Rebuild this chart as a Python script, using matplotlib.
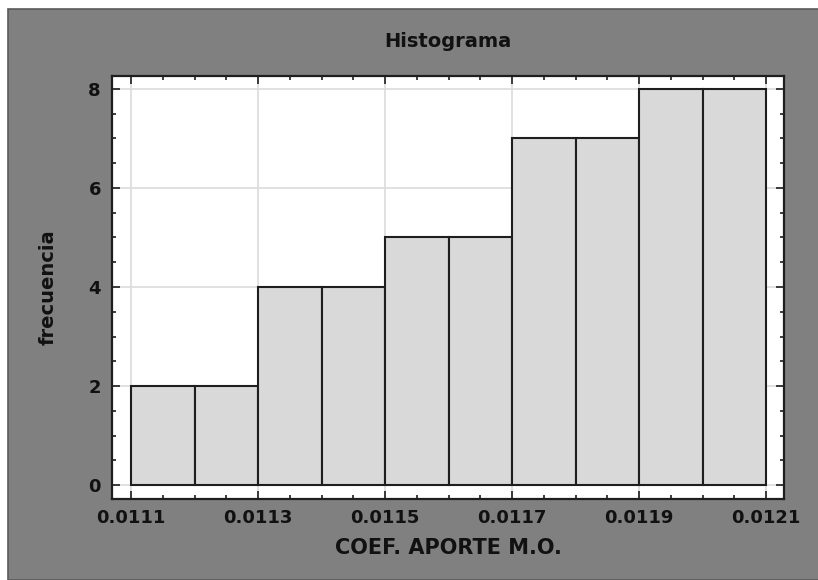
import numpy as np
import matplotlib.pyplot as plt
from matplotlib.patches import Rectangle
from matplotlib.ticker import MultipleLocator

# Histogram data
bin_edges = [0.0111, 0.0112, 0.0113, 0.0114, 0.0115, 0.0116,
             0.0117, 0.0118, 0.0119, 0.0120, 0.0121]
counts = [2, 2, 4, 4, 5, 5, 7, 7, 8, 8]
x_ticks = [0.0111, 0.0113, 0.0115, 0.0117, 0.0119, 0.0121]
x_tick_labels = ['0.0111', '0.0113', '0.0115', '0.0117', '0.0119', '0.0121']
y_ticks = [0, 2, 4, 6, 8]

plt.rcParams['font.family'] = ['DejaVu Sans']
plt.rcParams['font.weight'] = 'bold'

fig = plt.figure(figsize=(8.18, 5.80), dpi=100, facecolor='white')

# Gray panel behind the plot
fig.add_artist(Rectangle((8 / 818, 0), 1, 1 - 9 / 580, transform=fig.transFigure,
                         facecolor='#808080', edgecolor='#5a5a5a', linewidth=1.2,
                         zorder=-10))

ax = fig.add_axes([112 / 818, 81 / 580, (784 - 112) / 818, (499 - 76) / 580])
ax.set_zorder(1)
ax.set_facecolor('white')

edges = np.array(bin_edges)
ax.bar(edges[:-1], counts, width=np.diff(edges), align='edge',
       color='#d9d9d9', edgecolor='#1e1e1e', linewidth=1.5, zorder=2)

ax.set_xlim(0.01107, 0.012128)
ax.set_ylim(-0.28, 8.26)

ax.set_xticks(x_ticks)
ax.set_xticklabels(x_tick_labels)
ax.set_yticks(y_ticks)
ax.xaxis.set_minor_locator(MultipleLocator(0.00005))
ax.yaxis.set_minor_locator(MultipleLocator(0.5))

ax.tick_params(axis='both', which='both', direction='in', top=True, right=True,
               color='#1e1e1e', labelsize=13, labelcolor='#111111')
ax.tick_params(axis='both', which='major', length=6, width=1.2)
ax.tick_params(axis='both', which='minor', length=3, width=1.2)
ax.tick_params(axis='x', pad=7)
ax.tick_params(axis='y', pad=8)

ax.grid(True, which='major', color='#dcdcdc', linewidth=1.2, zorder=0)
ax.set_axisbelow(True)

for s in ax.spines.values():
    s.set_linewidth(1.6)
    s.set_color('#1e1e1e')

ax.set_title('Histograma', fontsize=14, fontweight='bold', pad=21, color='#111111')
ax.set_xlabel('COEF. APORTE M.O.', fontsize=15, fontweight='bold', labelpad=8,
              color='#111111')
ax.set_ylabel('frecuencia', fontsize=14, fontweight='bold', labelpad=22,
              color='#111111')

fig.savefig('out.png', dpi=100, facecolor=fig.get_facecolor())
